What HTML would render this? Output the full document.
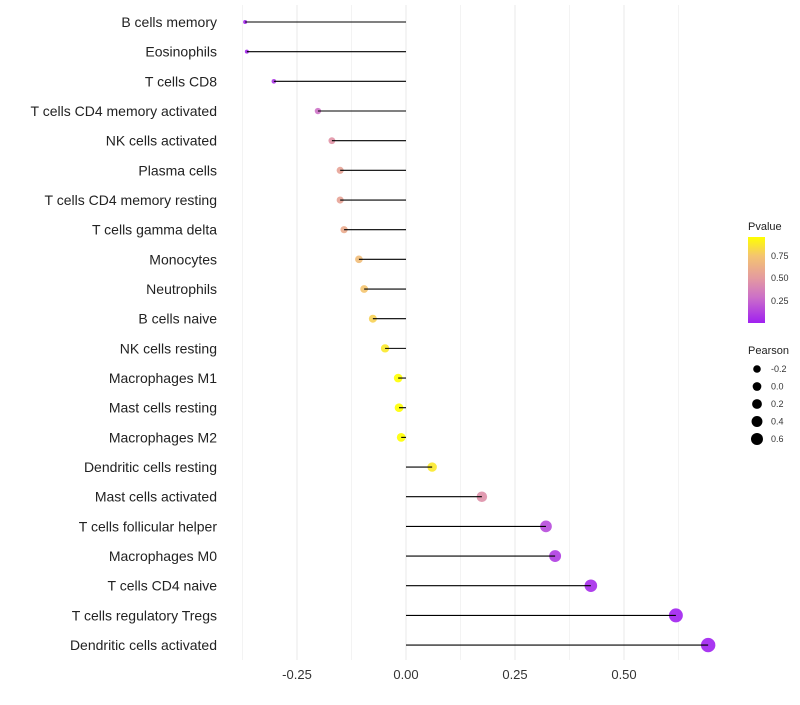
<!DOCTYPE html>
<html><head><meta charset="utf-8"><style>
body{margin:0;background:#fff;font-family:"Liberation Sans",Arial,sans-serif}
svg text{font-family:"Liberation Sans",Arial,sans-serif}
</style></head><body>
<svg id="chart" width="800" height="700" viewBox="0 0 800 700">
<g id="grid"></g>
<g id="ylab"></g>
<g id="xlab"></g>
<g id="marks"></g>
<g id="legend">
<defs><linearGradient id="pg" x1="0" y1="1" x2="0" y2="0">
<stop offset="0" stop-color="#A020F0"/><stop offset="0.3" stop-color="#CC70C8"/><stop offset="0.52" stop-color="#E49AA0"/><stop offset="0.78" stop-color="#F4C470"/><stop offset="1" stop-color="#FFFF00"/></linearGradient></defs>
<text x="748" y="230" font-size="11" fill="#222">Pvalue</text>
<rect x="748" y="237" width="17" height="86" fill="url(#pg)"/>
<text x="771" y="259" font-size="9" fill="#333">0.75</text>
<text x="771" y="281" font-size="9" fill="#333">0.50</text>
<text x="771" y="304" font-size="9" fill="#333">0.25</text>
<text x="748" y="354" font-size="11" fill="#222">Pearson</text>
<g id="sizeleg"></g>
</g>
</svg>
<script>
const cells=["B cells memory","Eosinophils","T cells CD8","T cells CD4 memory activated","NK cells activated","Plasma cells","T cells CD4 memory resting","T cells gamma delta","Monocytes","Neutrophils","B cells naive","NK cells resting","Macrophages M1","Mast cells resting","Macrophages M2","Dendritic cells resting","Mast cells activated","T cells follicular helper","Macrophages M0","T cells CD4 naive","T cells regulatory  Tregs","Dendritic cells activated"];
const pearson=[-0.369,-0.365,-0.303,-0.202,-0.17,-0.151,-0.151,-0.142,-0.108,-0.096,-0.076,-0.048,-0.018,-0.016,-0.011,0.06,0.174,0.321,0.342,0.424,0.619,0.693];
const pvalue=[0.02,0.02,0.08,0.3,0.47,0.55,0.55,0.6,0.7,0.75,0.8,0.88,0.96,0.96,0.96,0.88,0.45,0.15,0.1,0.04,0.005,0.003];
const xTicks=[-0.25,0,0.25,0.5];
const xTickLabels=["-0.25","0.00","0.25","0.50"];
const gridVals=[-0.375,-0.25,-0.125,0,0.125,0.25,0.375,0.5,0.625];
const sizeLegVals=[-0.2,0,0.2,0.4,0.6];
const NS="http://www.w3.org/2000/svg";
const x=v=>406+v*436;
const y=i=>22+i*29.67;
const r=v=>Math.max(2,7.2*Math.sqrt(Math.max(0,(v+0.42)/1.11)));
const stops=[[0,[160,32,240]],[0.3,[204,112,200]],[0.52,[228,154,160]],[0.78,[244,196,112]],[1,[255,255,0]]];
function col(p){const t=Math.min(1,Math.max(0,p/0.96));
 for(let s=0;s<stops.length-1;s++){const[a,ca]=stops[s],[b,cb]=stops[s+1];
  if(t<=b){const u=(t-a)/(b-a);return `rgb(${ca.map((q,k)=>Math.round(q+(cb[k]-q)*u))})`;}}
 return 'rgb(255,255,0)';}
function mk(tag,at,parent){const e=document.createElementNS(NS,tag);for(const k in at)e.setAttribute(k,at[k]);parent.appendChild(e);return e;}
const g=document.getElementById('grid');
gridVals.forEach(v=>{const l=mk('line',{x1:x(v),x2:x(v),y1:5,y2:660,stroke:'#ebebeb','stroke-width':Math.abs(v*4%1)<1e-9?1.1:0.6},g);

});
const xl=document.getElementById('xlab');
xTicks.forEach((v,i)=>{const t=mk('text',{x:x(v),y:679,'font-size':13,'text-anchor':'middle',fill:'#333'},xl);t.textContent=xTickLabels[i];

});
const yl=document.getElementById('ylab'),m=document.getElementById('marks');
cells.forEach((c,i)=>{const t=mk('text',{x:217,y:y(i)+5,'font-size':14,'text-anchor':'end',fill:'#222'},yl);t.textContent=c;


const d=mk('circle',{cx:x(pearson[i]),cy:y(i),r:r(pearson[i]),fill:col(pvalue[i]),'fill-opacity':0.9},m);


const l=mk('line',{x1:x(0),x2:x(pearson[i]),y1:y(i),y2:y(i),stroke:'#000','stroke-width':1.1},m);

});
const sl=document.getElementById('sizeleg');
sizeLegVals.forEach((v,i)=>{const cy=369+i*17.5;
const d=mk('circle',{cx:757,cy:cy,r:3.8+i*0.55,fill:'#000'},sl);


const t=mk('text',{x:771,y:cy+3,'font-size':9,fill:'#333'},sl);t.textContent=v.toFixed(1);

});
</script>
</body></html>
